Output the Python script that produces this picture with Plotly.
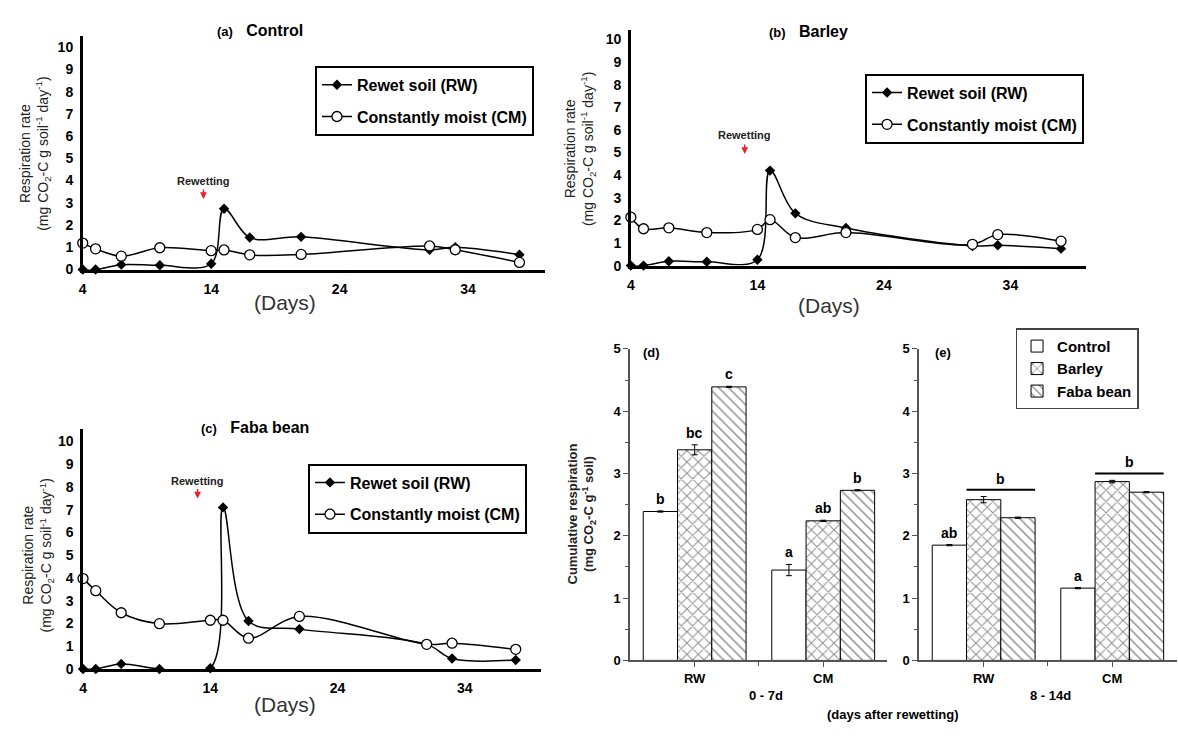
import plotly.graph_objects as go

W, H = 1178, 736
FONT = "Liberation Sans"

# ---- respiration time series (mg CO2-C g soil-1 day-1) ----
days = [4, 5, 7, 10, 14, 15, 17, 21, 31, 33, 38]
control_rw = [0, 0, 0.22, 0.19, 0.26, 2.73, 1.44, 1.47, 0.89, 1.0, 0.67]
control_cm = [1.19, 0.93, 0.6, 0.98, 0.85, 0.88, 0.66, 0.68, 1.06, 0.89, 0.32]
barley_rw = [0, 0, 0.19, 0.17, 0.26, 4.2, 2.31, 1.66, 0.87, 0.9, 0.75]
barley_cm = [2.14, 1.63, 1.67, 1.46, 1.6, 2.03, 1.24, 1.46, 0.94, 1.37, 1.08]
faba_rw = [0, 0, 0.22, 0, 0.03, 7.1, 2.11, 1.75, 1.08, 0.46, 0.39]
faba_cm = [3.97, 3.44, 2.47, 1.99, 2.14, 2.14, 1.35, 2.31, 1.08, 1.13, 0.86]
day_ticks = [4, 14, 24, 34]
rewet_day = [13.4, 13.0, 13.0]

# ---- cumulative respiration (mg CO2-C g-1 soil) ----
treatments = ["Control", "Barley", "Faba bean"]
groups = ["RW", "CM"]
early_rw = [2.39, 3.38, 4.39]
early_rw_err = [0.01, 0.08, 0.01]
early_cm = [1.45, 2.24, 2.73]
early_cm_err = [0.09, 0.01, 0.01]
late_rw = [1.85, 2.58, 2.29]
late_rw_err = [0.01, 0.05, 0.01]
late_cm = [1.16, 2.87, 2.70]
late_cm_err = [0.01, 0.02, 0.01]
early_letters_rw = ["b", "bc", "c"]
early_letters_cm = ["a", "ab", "b"]
late_letters_rw = ["ab", "", ""]
late_letters_cm = ["a", "", ""]
late_group_letter = "b"


def px(x):
    return x / W


def py(y):
    return 1 - y / H


def bold(size, color="black"):
    return dict(family=FONT, size=size, color=color, weight="bold")


fig = go.Figure()

line_panels = [
    ("x", "y", "legend", control_rw, control_cm),
    ("x2", "y2", "legend2", barley_rw, barley_cm),
    ("x3", "y3", "legend3", faba_rw, faba_cm),
]
for xa, ya, lg, rw, cm in line_panels:
    fig.add_trace(go.Scatter(
        x=days, y=rw, xaxis=xa, yaxis=ya, mode="lines+markers",
        name="Rewet soil (RW)", legend=lg, legendgroup=lg + "rw",
        line=dict(color="black", width=1.5, shape="spline", smoothing=1.0),
        marker=dict(symbol="diamond", size=8, color="black"),
        cliponaxis=False, legendrank=1,
    ))
    fig.add_trace(go.Scatter(
        x=days, y=cm, xaxis=xa, yaxis=ya, mode="lines+markers",
        name="Constantly moist (CM)", legend=lg, legendgroup=lg + "cm",
        line=dict(color="black", width=1.5, shape="spline", smoothing=1.0),
        marker=dict(symbol="circle", size=10, color="white",
                    line=dict(color="black", width=1.3)),
        cliponaxis=False, legendrank=2,
    ))

patterns = [
    dict(shape=""),
    dict(shape="x", size=8, solidity=0.25, fgcolor="#222", bgcolor="white"),
    dict(shape="\\", size=7, solidity=0.22, fgcolor="#222", bgcolor="white"),
]
bar_sets = [
    ("x4", "y4", early_rw, early_cm, early_rw_err, early_cm_err, True),
    ("x5", "y5", late_rw, late_cm, late_rw_err, late_cm_err, False),
]
for xa, ya, rw, cm, rwe, cme, show in bar_sets:
    for i, t in enumerate(treatments):
        fig.add_trace(go.Bar(
            x=[0, 1], y=[rw[i], cm[i]], xaxis=xa, yaxis=ya, name=t,
            legend="legend4", showlegend=show, offsetgroup=str(i),
            marker=dict(color="white", line=dict(color="black", width=1),
                        pattern=patterns[i]),
            error_y=dict(type="data", array=[rwe[i], cme[i]], color="black",
                         thickness=1, width=3),
        ))

axis_line = dict(showline=True, linecolor="black", linewidth=2.5,
                 showgrid=False, zeroline=False, tickfont=bold(14))
line_axes = [
    ("xaxis", "yaxis", (79, 543), (268, 29.6), 10.5),
    ("xaxis2", "yaxis2", (629, 1086), (264, 23.8), 10.4),
    ("xaxis3", "yaxis3", (79.3, 539), (675.7, 430.7), 10.55),
]
for xn, yn, (x0, x1), (yb, yt), ytop in line_axes:
    fig.update_layout({
        xn: dict(axis_line, domain=[px(x0), px(x1)], range=[4, 40],
                 tickmode="array", tickvals=day_ticks, ticks="outside",
                 ticklen=5, tickcolor="rgba(0,0,0,0)",
                 anchor=yn.replace("axis", "")),
        yn: dict(axis_line, domain=[py(yb), py(yt)], range=[0, ytop],
                 tickmode="array", tickvals=list(range(0, 11)),
                 ticks="outside", ticklen=4, tickcolor="rgba(0,0,0,0)",
                 anchor=xn.replace("axis", "")),
    })

bar_axis = dict(showline=True, linecolor="#555", linewidth=2,
                showgrid=False, zeroline=False, tickfont=bold(13))
for xn, yn, (x0, x1) in [("xaxis4", "yaxis4", (628.5, 886.5)),
                         ("xaxis5", "yaxis5", (918.5, 1176.5))]:
    fig.update_layout({
        xn: dict(bar_axis, domain=[px(x0), px(x1)], range=[-0.5, 1.5],
                 tickmode="array", tickvals=[0, 1], ticktext=groups,
                 ticks="outside", ticklen=5, tickcolor="#555",
                 minor=dict(tickmode="array", tickvals=[0.5],
                            ticks="outside", ticklen=4, tickcolor="#555"),
                 anchor=yn.replace("axis", "")),
        yn: dict(bar_axis, domain=[py(667), py(349)], range=[0, 5],
                 tickmode="linear", tick0=0, dtick=1, ticks="outside",
                 ticklen=5, tickcolor="#555",
                 minor=dict(dtick=0.5, ticks="outside", ticklen=3,
                            tickcolor="#555"),
                 anchor=xn.replace("axis", "")),
    })

ann = []
shapes = []


def paper_text(x, y, text, font, **kw):
    d = dict(x=px(x), y=py(y), xref="paper", yref="paper", text=text,
             showarrow=False, xanchor="center", yanchor="middle", font=font)
    d.update(kw)
    ann.append(d)


# panel titles
for (x, y, label, name) in [(257, 24, "(a)", "Control"),
                            (807, 25, "(b)", "Barley"),
                            (252, 429, "(c)", "Faba bean")]:
    paper_text(x, y,
               f"<span style='font-size:13px'>{label}</span>&nbsp;&nbsp;&nbsp;{name}",
               bold(16))

# y titles of the time-series panels
rate_title = ("Respiration rate<br>(mg CO<sub>2</sub>-C g soil<sup>-1</sup> "
              "day<sup>-1</sup>)")
for x, y in [(31, 150), (578, 145), (34, 560)]:
    paper_text(x, y, rate_title,
               dict(family=FONT, size=14, color="#222"), textangle=-90)

# x titles of the time-series panels
for x, y in [(282, 302), (828, 305), (282, 712)]:
    paper_text(x, y, "(Days)", dict(family=FONT, size=21, color="#333"))

# rewetting markers
rewet_pos = [("x", "y", 3.17, 4.0), ("x2", "y2", 4.93, 5.76),
             ("x3", "y3", 7.49, 8.26)]
for (xa, ya, yhead, ytext), d in zip(rewet_pos, rewet_day):
    ann.append(dict(x=d, y=ytext, xref=xa, yref=ya, text="Rewetting",
                    showarrow=False, font=bold(11, "#222")))
    ann.append(dict(x=d, y=yhead, xref=xa, yref=ya, text="", showarrow=True,
                    ax=0, ay=-11, arrowhead=2, arrowsize=0.9,
                    arrowwidth=1.5, arrowcolor="#e8202a"))

# bar panel labels
bar_title = "Cumulative respiration<br>(mg CO<sub>2</sub>-C g<sup>-1</sup> soil)"
paper_text(580, 518, bar_title, bold(13, "#222"), textangle=-90)
paper_text(650, 353, "(d)", bold(13))
paper_text(942, 353, "(e)", bold(13))
paper_text(765, 703, "0 - 7d", bold(13))
paper_text(1050, 703, "8 - 14d", bold(13))
paper_text(892, 722, "(days after rewetting)", bold(13))

# significance letters above bars
bw = 0.8 / 3
letter_sets = [
    ("x4", "y4", early_rw, early_rw_err, early_letters_rw, 0),
    ("x4", "y4", early_cm, early_cm_err, early_letters_cm, 1),
    ("x5", "y5", late_rw, late_rw_err, late_letters_rw, 0),
    ("x5", "y5", late_cm, late_cm_err, late_letters_cm, 1),
]
for xa, ya, vals, errs, lets, g in letter_sets:
    for i, (v, e, l) in enumerate(zip(vals, errs, lets)):
        if not l:
            continue
        ann.append(dict(x=g + (i - 1) * bw, y=v + e, xref=xa, yref=ya,
                        text=l, showarrow=False, yanchor="bottom", yshift=2,
                        font=bold(14)))

# shared letter over Barley and Faba bean in (e)
for g, vals, errs in [(0, late_rw, late_rw_err), (1, late_cm, late_cm_err)]:
    top = max(v + e for v, e in zip(vals[1:], errs[1:])) + 0.11
    shapes.append(dict(type="line", xref="x5", yref="y5",
                       x0=g - 0.5 * bw, x1=g + 1.5 * bw, y0=top, y1=top,
                       line=dict(color="black", width=2)))
    ann.append(dict(x=g + 0.5 * bw, y=top, xref="x5", yref="y5",
                    text=late_group_letter, showarrow=False, yanchor="bottom",
                    yshift=1, font=bold(14)))

leg_common = dict(xanchor="left", yanchor="top", bgcolor="white",
                  bordercolor="black", borderwidth=2, tracegroupgap=8,
                  itemwidth=30, font=bold(16))
fig.update_layout(
    width=W, height=H, margin=dict(l=0, r=0, t=0, b=0),
    paper_bgcolor="white", plot_bgcolor="white",
    barmode="group", bargap=0.2, bargroupgap=0,
    showlegend=True,
    legend=dict(leg_common, x=px(312), y=py(60)),
    legend2=dict(leg_common, x=px(864), y=py(68)),
    legend3=dict(leg_common, x=px(305), y=py(466)),
    legend4=dict(xanchor="left", yanchor="top", x=px(1015), y=py(328),
                 bgcolor="white", bordercolor="#444", borderwidth=1.5,
                 tracegroupgap=0, itemwidth=30, font=bold(15)),
    annotations=ann, shapes=shapes,
)

fig.write_html("out.html")
